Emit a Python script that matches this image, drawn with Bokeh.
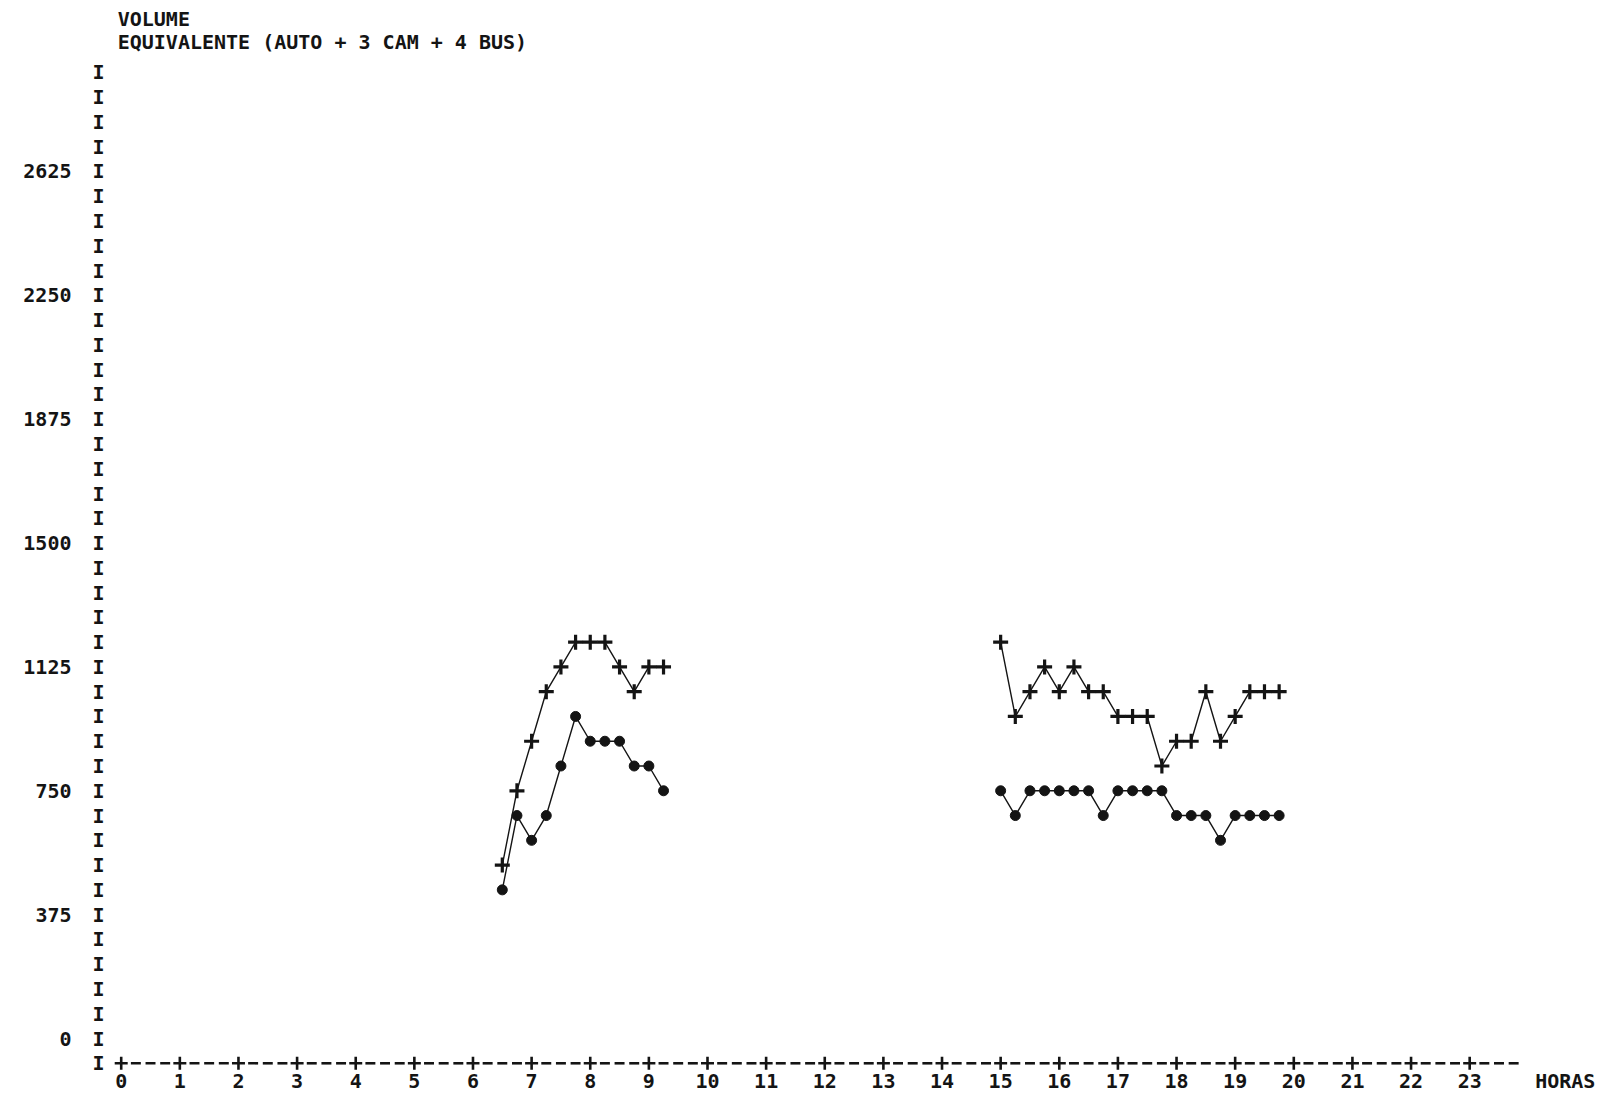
from bokeh.plotting import figure
from bokeh.models import FixedTicker, Range1d
from bokeh.core.properties import value
from bokeh.embed import file_html
from bokeh.resources import INLINE

# ---- data ----
morning_time = [6.5, 6.75, 7.0, 7.25, 7.5, 7.75, 8.0, 8.25, 8.5, 8.75, 9.0, 9.25]
morning_upper = [525, 750, 900, 1050, 1125, 1200, 1200, 1200, 1125, 1050, 1125, 1125]
morning_lower = [450, 675, 600, 675, 825, 975, 900, 900, 900, 825, 825, 750]

afternoon_time = [15.0, 15.25, 15.5, 15.75, 16.0, 16.25, 16.5, 16.75, 17.0, 17.25,
                  17.5, 17.75, 18.0, 18.25, 18.5, 18.75, 19.0, 19.25, 19.5, 19.75]
afternoon_upper = [1200, 975, 1050, 1125, 1050, 1125, 1050, 1050, 975, 975,
                   975, 825, 900, 900, 1050, 900, 975, 1050, 1050, 1050]
afternoon_lower = [750, 675, 750, 750, 750, 750, 750, 675, 750, 750,
                   750, 750, 675, 675, 675, 600, 675, 675, 675, 675]

hour_ticks = list(range(0, 24))
hour_labels = [str(h) for h in hour_ticks]
y_ticks = [0, 375, 750, 1125, 1500, 1875, 2250, 2625]
y_tick_labels = ["0", "375", "750", "1125", "1500", "1875", "2250", "2625"]
title_lines = ["VOLUME", "EQUIVALENTE (AUTO + 3 CAM + 4 BUS)"]
x_unit_label = "HORAS"

FONT = "DejaVu Sans Mono"
FSIZE = "20px"
INK = "#141414"
ROW = 75  # printer row step

p = figure(width=1595, height=1093,
           x_range=Range1d(-0.592, 25.146), y_range=Range1d(-166.5, 3142.6),
           output_backend="svg", toolbar_location=None, title=None,
           min_border_left=86, min_border_right=0, min_border_top=0,
           min_border_bottom=0)
p.background_fill_color = "white"
p.border_fill_color = "white"
p.outline_line_color = None
p.xgrid.visible = False
p.ygrid.visible = False
p.xaxis.visible = False

# vertical axis labels
ya = p.yaxis[0]
ya.ticker = FixedTicker(ticks=y_ticks)
ya.major_label_overrides = dict(zip(y_ticks, y_tick_labels))
ya.axis_line_color = None
ya.major_tick_line_color = None
ya.minor_tick_line_color = None
ya.major_label_text_font = FONT
ya.major_label_text_font_style = "bold"
ya.major_label_text_font_size = FSIZE
ya.major_label_text_color = INK
ya.major_label_standoff = 9

# printer-style vertical axis made of "I" characters
rows = list(range(-ROW, 2925 + ROW, ROW))
p.text(x=[-0.387] * len(rows), y=rows, text=["I"] * len(rows),
       text_font=value(FONT), text_font_style="bold", text_font_size=FSIZE,
       text_align="center", text_baseline="middle", text_color=INK)

# printer-style horizontal axis "+---+---"
base_y = -ROW
p.scatter(x=hour_ticks, y=[base_y] * len(hour_ticks), marker="cross", size=13,
          line_width=2.6, line_color=INK)
dx0, dx1 = [], []
for h in hour_ticks:
    for k in (1, 2, 3):
        c = h + 0.25 * k
        dx0.append(c - 0.085)
        dx1.append(c + 0.085)
p.segment(x0=dx0, y0=[base_y] * len(dx0), x1=dx1, y1=[base_y] * len(dx1),
          line_width=2.6, line_color=INK)

# hour labels and unit
label_y = -128
p.text(x=hour_ticks, y=[label_y] * len(hour_ticks), text=hour_labels,
       text_font=value(FONT), text_font_style="bold", text_font_size=FSIZE,
       text_align="center", text_baseline="middle", text_color=INK)
p.text(x=[24.63], y=[label_y], text=[x_unit_label],
       text_font=value(FONT), text_font_style="bold", text_font_size=FSIZE,
       text_align="center", text_baseline="middle", text_color=INK)

# title lines
p.text(x=[-0.06, -0.06], y=[3087, 3018], text=title_lines,
       text_font=value(FONT), text_font_style="bold", text_font_size=FSIZE,
       text_align="left", text_baseline="middle", text_color=INK)

# series
for t, up, lo in ((morning_time, morning_upper, morning_lower),
                  (afternoon_time, afternoon_upper, afternoon_lower)):
    p.line(t, up, line_color=INK, line_width=1.4)
    p.scatter(t, up, marker="cross", size=15, line_width=3.2, line_color=INK)
    p.line(t, lo, line_color=INK, line_width=1.4)
    p.scatter(t, lo, marker="circle", size=10, fill_color=INK, line_color=INK)

open("out.html", "w").write(file_html(p, INLINE))
